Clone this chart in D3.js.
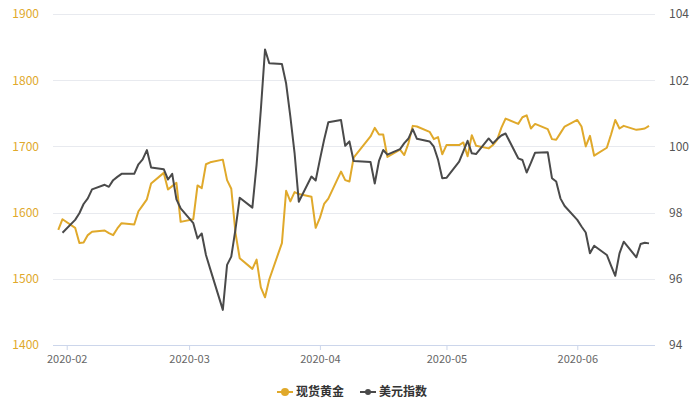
<!DOCTYPE html>
<html>
<head>
<meta charset="utf-8">
<script src="https://cdn.jsdelivr.net/npm/d3@7"></script>
<style>
  html, body { margin: 0; padding: 0; background: #fff; }
  svg text { font-family: "Noto Sans CJK SC", "Open Sans", sans-serif; }
</style>
</head>
<body>
<div class="chart-container"></div>
<script>
//! DATA
const dates = [
  '2020-01-30','2020-01-31','2020-02-03','2020-02-04','2020-02-05','2020-02-06','2020-02-07',
  '2020-02-10','2020-02-11','2020-02-12','2020-02-13','2020-02-14','2020-02-17','2020-02-18',
  '2020-02-19','2020-02-20','2020-02-21','2020-02-24','2020-02-25','2020-02-26','2020-02-27',
  '2020-02-28','2020-03-02','2020-03-03','2020-03-04','2020-03-05','2020-03-06','2020-03-09',
  '2020-03-10','2020-03-11','2020-03-12','2020-03-13','2020-03-16','2020-03-17','2020-03-18',
  '2020-03-19','2020-03-20','2020-03-23','2020-03-24','2020-03-25','2020-03-26','2020-03-27',
  '2020-03-30','2020-03-31','2020-04-01','2020-04-02','2020-04-03','2020-04-06','2020-04-07',
  '2020-04-08','2020-04-09','2020-04-13','2020-04-14','2020-04-15','2020-04-16','2020-04-17',
  '2020-04-20','2020-04-21','2020-04-22','2020-04-23','2020-04-24','2020-04-27','2020-04-28',
  '2020-04-29','2020-04-30','2020-05-01','2020-05-04','2020-05-05','2020-05-06','2020-05-07',
  '2020-05-08','2020-05-11','2020-05-12','2020-05-13','2020-05-14','2020-05-15','2020-05-18',
  '2020-05-19','2020-05-20','2020-05-21','2020-05-22','2020-05-25','2020-05-26','2020-05-27',
  '2020-05-28','2020-05-29','2020-06-01','2020-06-02','2020-06-03','2020-06-04','2020-06-05',
  '2020-06-08','2020-06-09','2020-06-10','2020-06-11','2020-06-12','2020-06-15','2020-06-16',
  '2020-06-17','2020-06-18'
];

// 现货黄金
const gold = [
  1574, 1590, 1577, 1554, 1555, 1566, 1571,
  1573, 1569, 1566, 1576, 1584, 1582, 1602,
  1611, 1620, 1644, 1660, 1635, 1640, 1645,
  1586, 1590, 1641, 1637, 1673, 1676, 1680,
  1649, 1636, 1569, 1531, 1515, 1529, 1487,
  1472, 1499, 1554, 1633, 1617, 1631, 1628,
  1624, 1577, 1592, 1613, 1621, 1662, 1649,
  1647, 1683, 1715, 1728, 1718, 1718, 1684,
  1695, 1687, 1705, 1731, 1730, 1722, 1711,
  1714, 1688, 1702, 1702, 1706, 1685, 1717,
  1701, 1697, 1702, 1710, 1728, 1742, 1734,
  1744, 1747, 1727, 1734, 1726, 1711, 1710,
  1720, 1730, 1740, 1730, 1700, 1716, 1686,
  1698, 1718, 1740, 1727, 1731, 1725, 1726,
  1727, 1731
];

// 美元指数
const usd = [
  null, 97.39, 97.78, 97.98, 98.26, 98.43, 98.70,
  98.84, 98.78, 98.98, 99.08, 99.17, 99.17, 99.46,
  99.61, 99.89, 99.36, 99.31, 99.00, 99.17, 98.40,
  98.13, 97.68, 97.22, 97.37, 96.72, 96.30, 95.06,
  96.42, 96.67, 97.50, 98.45, 98.15, 99.45, 101.10,
  102.93, 102.51, 102.49, 101.90, 100.90, 99.80, 98.33,
  99.09, 98.97, 99.60, 100.20, 100.73, 100.80, 100.02,
  100.15, 99.56, 99.53, 98.88, 99.56, 99.89, 99.75,
  99.92, 100.10, 100.24, 100.52, 100.23, 100.15, 99.99,
  99.60, 99.04, 99.05, 99.54, 99.85, 100.17, 99.79,
  99.77, 100.24, 100.09, 100.22, 100.33, 100.39, 99.64,
  99.59, 99.21, 99.50, 99.81, 99.82, 99.04, 98.94,
  98.43, 98.20, 97.78, 97.58, 97.40, 96.77, 97.00,
  96.72, 96.40, 96.09, 96.77, 97.12, 96.65, 97.05,
  97.09, 97.07
];

const monthTicks = ['2020-02', '2020-03', '2020-04', '2020-05', '2020-06'];
const goldTicks = [1400, 1500, 1600, 1700, 1800, 1900];
const usdTicks = [94, 96, 98, 100, 102, 104];
const seriesNames = ['现货黄金', '美元指数'];

//! CONSTS
const width = 700;
const height = 400;
const plotLeft = 53;
const plotRight = 655;
const plotTop = 14;
const plotBottom = 345;
const goldColor = '#e0a92b';
const usdColor = '#4a4a4a';

const parseDay = d3.utcParse('%Y-%m-%d');
const parseMonth = d3.utcParse('%Y-%m');

//! SVG
const svg =
  d3.select('.chart-container')
    .append('svg')
    .attr('width', width)
    .attr('height', height)

//! SCALES
const xScale =
  d3.scaleUtc()
    .domain([new Date(Date.UTC(2020, 0, 28, 18)), new Date(Date.UTC(2020, 5, 19, 10))])
    .range([plotLeft, plotRight]);

const yGold =
  d3.scaleLinear()
    .domain([1400, 1900])
    .range([plotBottom, plotTop]);

const yUsd =
  d3.scaleLinear()
    .domain([94, 104])
    .range([plotBottom, plotTop]);

//! GRID
svg.append('g')
  .selectAll('line')
  .data(goldTicks.slice(1))
  .enter()
  .append('line')
  .attr('x1', plotLeft)
  .attr('x2', plotRight)
  .attr('y1', d => Math.round(yGold(d)) + 0.5)
  .attr('y2', d => Math.round(yGold(d)) + 0.5)
  .attr('stroke', '#e8eaef')
  .attr('stroke-width', 1)

// !AXIS
const xAxis =
  d3.axisBottom(xScale)
    .tickValues(monthTicks.map(parseMonth))
    .tickFormat(d3.utcFormat('%Y-%m'))
    .tickSize(5)
    .tickPadding(5)

const mainXaxis = svg
  .append('g')
  .attr('transform', `translate(0,${plotBottom})`)
  .call(xAxis);
mainXaxis.select('.domain').attr('stroke', '#ccd6eb').attr('d', `M${plotLeft},0.5H${plotRight}`);
mainXaxis.selectAll('.tick line').attr('stroke', '#ccd6eb');
mainXaxis.selectAll('.tick text').attr('fill', '#666').style('font-size', '11px');

const goldAxis = svg
  .append('g')
  .attr('transform', `translate(${plotLeft - 14},0)`)
  .call(d3.axisLeft(yGold).tickValues(goldTicks).tickFormat(d3.format('d')).tickSize(0).tickPadding(0));
goldAxis.select('.domain').remove();
goldAxis.selectAll('text').attr('fill', goldColor).style('font-size', '12px');

const usdAxis = svg
  .append('g')
  .attr('transform', `translate(${plotRight + 14},0)`)
  .call(d3.axisRight(yUsd).tickValues(usdTicks).tickSize(0).tickPadding(0));
usdAxis.select('.domain').remove();
usdAxis.selectAll('text').attr('fill', '#555').style('font-size', '12px');

//! LINES
const rows = dates.map((d, i) => ({ date: parseDay(d), gold: gold[i], usd: usd[i] }));

const goldLine = d3.line()
  .defined(d => d.gold != null)
  .x(d => xScale(d.date))
  .y(d => yGold(d.gold));

const usdLine = d3.line()
  .defined(d => d.usd != null)
  .x(d => xScale(d.date))
  .y(d => yUsd(d.usd));

svg.append('path')
  .datum(rows)
  .attr('d', goldLine)
  .attr('fill', 'none')
  .attr('stroke', goldColor)
  .attr('stroke-width', 2)
  .attr('stroke-linejoin', 'round')

svg.append('path')
  .datum(rows)
  .attr('d', usdLine)
  .attr('fill', 'none')
  .attr('stroke', usdColor)
  .attr('stroke-width', 2)
  .attr('stroke-linejoin', 'round')

//! LEGEND
const legend = svg.append('g').attr('transform', 'translate(0,392)');
const legendX = [277, 360];
const legendColors = [goldColor, usdColor];

seriesNames.forEach((name, i) => {
  const g = legend.append('g').attr('transform', `translate(${legendX[i]},0)`);
  g.append('line')
    .attr('x1', 0).attr('x2', 16)
    .attr('stroke', legendColors[i])
    .attr('stroke-width', 2)
  g.append('circle')
    .attr('cx', 8).attr('r', i === 0 ? 4 : 3)
    .attr('fill', legendColors[i])
  g.append('text')
    .attr('x', 19)
    .attr('dy', '0.35em')
    .attr('fill', '#333')
    .style('font-size', '12px')
    .style('font-weight', 'bold')
    .text(name)
});
</script>
</body>
</html>
